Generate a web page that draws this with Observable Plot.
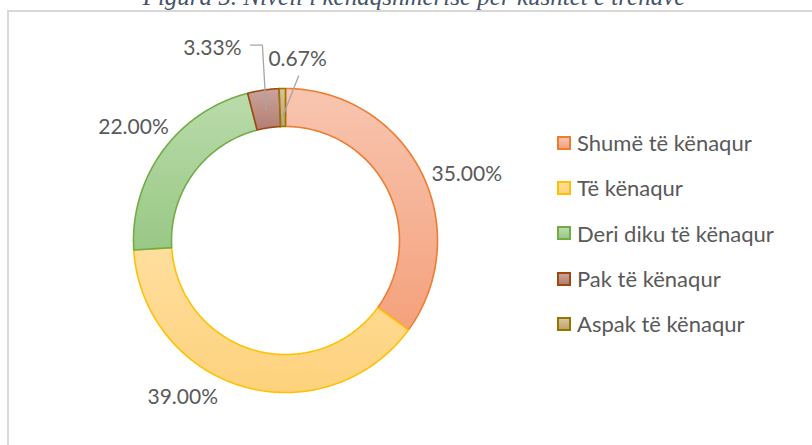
<!DOCTYPE html>
<html>
<head>
<meta charset="utf-8">
<script src="https://cdn.jsdelivr.net/npm/d3@7"></script>
<script src="https://cdn.jsdelivr.net/npm/@observablehq/plot@0.6"></script>
<style>
  html, body { margin: 0; padding: 0; background: #fff; }
  #wrap { position: relative; width: 812px; height: 445px; overflow: hidden; background: #fff; }
  #frame { position: absolute; left: 7px; top: 10px; width: 900px; height: 500px; border: 2px solid #D9D9D9; box-sizing: border-box; }
  #title { position: absolute; left: 0; width: 828px; top: -16px; text-align: center; font-family: "Liberation Serif", serif; font-style: italic; font-size: 25px; line-height: 25px; color: #44546A; white-space: nowrap; }
  #chart { position: absolute; left: 0; top: 0; }
  #legend { position: absolute; left: 557px; top: 120px; font-family: Lato, sans-serif; font-size: 22px; color: #595959; }
  .item { height: 45.3px; display: flex; align-items: center; }
  .sw { width: 10px; height: 10px; border: 2px solid; margin-right: 6px; }
</style>
</head>
<body>
<div id="wrap">
  <div id="frame"></div>
  <div id="title">Figura 5. Niveli i kënaqshmërisë për kushtet e trenave</div>
  <div id="chart"></div>
  <div id="legend"></div>
</div>
<script>
// ---- data ----
const categories = ["Shumë të kënaqur", "Të kënaqur", "Deri diku të kënaqur", "Pak të kënaqur", "Aspak të kënaqur"];
const shares = [35.00, 39.00, 22.00, 3.33, 0.67];
// ---- styles ----
const fillTop = ["#F8C5B0", "#FFDE9E", "#BADBAB", "#C9A39B", "#D6C49C"];
const fillBottom = ["#F4A17C", "#FED27C", "#99C885", "#B47E73", "#BFA56E"];
const strokeColors = ["#ED7D31", "#FFC000", "#70AD47", "#9E480E", "#997300"];
// label nudges in px (Excel best-fit placement)
const labelNudge = [[16, 18], [-51, -21], [-2, -4], [-46, -9], [16, 4]];

const inner = 0.75;
const total = d3.sum(shares);
let acc = 0;
const slices = shares.map((v, i) => {
  const a0 = acc / total * 2 * Math.PI;
  acc += v;
  const a1 = acc / total * 2 * Math.PI;
  return {i, cat: categories[i], v, a0, a1, mid: (a0 + a1) / 2};
});

const ringPts = [];
for (const s of slices) {
  const n = Math.max(2, Math.ceil((s.a1 - s.a0) / 0.01));
  const pts = [];
  for (let k = 0; k <= n; k++) { const a = s.a0 + (s.a1 - s.a0) * k / n; pts.push([Math.sin(a), Math.cos(a)]); }
  for (let k = n; k >= 0; k--) { const a = s.a0 + (s.a1 - s.a0) * k / n; pts.push([inner * Math.sin(a), inner * Math.cos(a)]); }
  pts.push(pts[0]);
  for (const [x, y] of pts) ringPts.push({cat: s.cat, i: s.i, x, y});
}

const R = 152; // px per data unit
const labelData = slices.map(s => ({
  text: s.v.toFixed(2) + "%",
  x: 1.22 * Math.sin(s.mid) + labelNudge[s.i][0] / R,
  y: 1.22 * Math.cos(s.mid) - labelNudge[s.i][1] / R
}));

// leader lines for the two small slices
const leaders = [];
{
  const s = slices[3], L = labelData[3];
  leaders.push({id: 3, x: L.x + 38 / R, y: L.y + 3 / R});
  leaders.push({id: 3, x: L.x + 50 / R, y: L.y + 3 / R});
  leaders.push({id: 3, x: 0.87 * Math.sin(s.mid), y: 0.87 * Math.cos(s.mid)});
  const t = slices[4], M = labelData[4];
  leaders.push({id: 4, x: M.x + 1 / R, y: M.y - 17 / R});
  leaders.push({id: 4, x: 0.82 * Math.sin(t.mid), y: 0.82 * Math.cos(t.mid)});
}

const cx = 285, cy = 240;
const plot = Plot.plot({
  width: 812,
  height: 445,
  x: {domain: [-1, 1], range: [cx - R, cx + R], axis: null},
  y: {domain: [-1, 1], range: [cy + R, cy - R], axis: null},
  color: {type: "identity"},
  style: {background: "transparent", fontFamily: "Lato, sans-serif", overflow: "visible"},
  marks: [
    Plot.line(ringPts, {x: "x", y: "y", z: "cat", fill: d => `url(#grad${d.i})`, stroke: d => strokeColors[d.i], strokeWidth: 1.6, strokeLinejoin: "miter"}),
    Plot.line(leaders, {x: "x", y: "y", z: "id", stroke: "#A6A6A6", strokeWidth: 1.3}),
    Plot.text(labelData, {x: "x", y: "y", text: "text", fontSize: 21, fill: "#595959", fontFamily: "Lato, sans-serif"})
  ]
});

const svg = d3.select(plot);
const defs = svg.insert("defs", ":first-child");
categories.forEach((c, i) => {
  const g = defs.append("linearGradient").attr("id", "grad" + i).attr("x1", 0).attr("y1", 0).attr("x2", 0).attr("y2", 1);
  g.append("stop").attr("offset", "0%").attr("stop-color", fillTop[i]);
  g.append("stop").attr("offset", "100%").attr("stop-color", fillBottom[i]);
});
document.getElementById("chart").appendChild(plot);

const legend = d3.select("#legend");
categories.forEach((c, i) => {
  const it = legend.append("div").attr("class", "item");
  it.append("div").attr("class", "sw").style("border-color", strokeColors[i]).style("background", `linear-gradient(${fillTop[i]}, ${fillBottom[i]})`);
  it.append("span").text(c);
});
</script>
</body>
</html>
